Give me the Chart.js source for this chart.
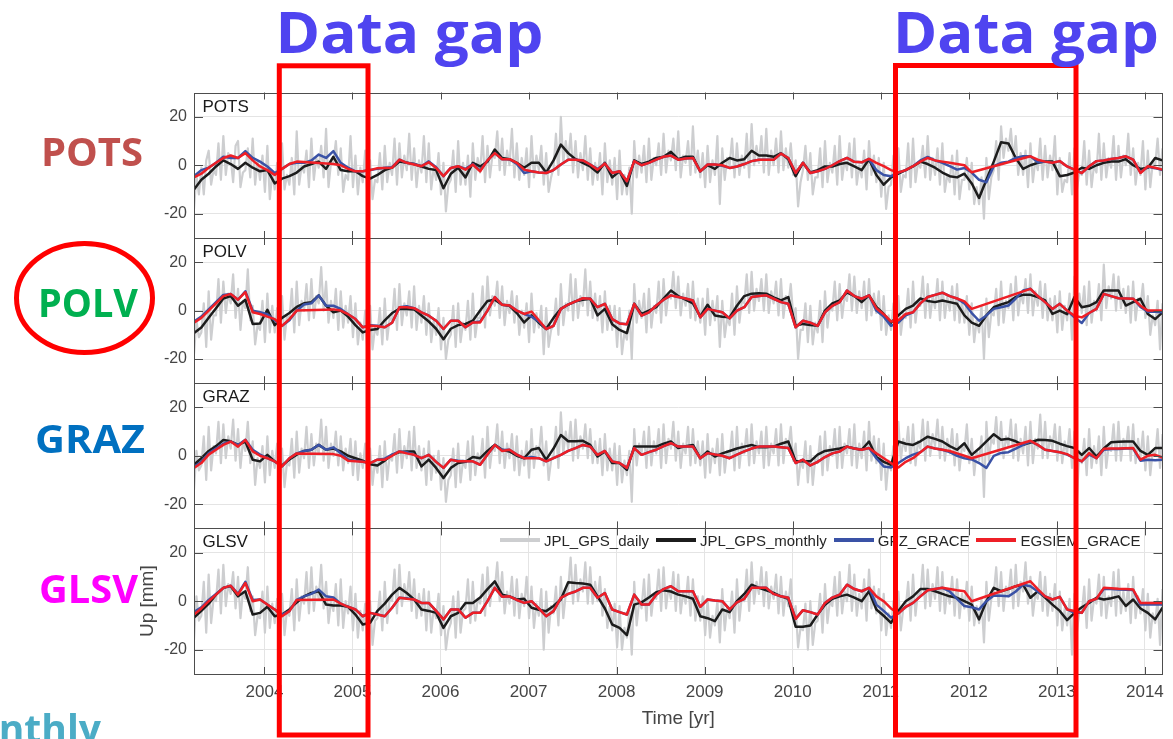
<!DOCTYPE html>
<html>
<head>
<meta charset="utf-8">
<title>GPS and GRACE vertical displacements</title>
<script src="https://cdn.jsdelivr.net/npm/chart.js@4.4.1/dist/chart.umd.min.js"></script>
<style>
  html, body { margin: 0; padding: 0; background: #fff; }
  #figure { position: relative; width: 1173px; height: 739px; overflow: hidden; background: #fff; }
  #figure canvas { position: absolute; left: 100px; }
  #legend { position: absolute; z-index: 2; left: 500px; top: 531px; height: 18px; display: flex; align-items: center;
            font: 15px "Liberation Sans", Arial, sans-serif; color: #262626; white-space: nowrap; }
  #legend .item { display: flex; align-items: center; margin-right: 7px; }
  #legend .swatch { display: inline-block; width: 40px; height: 3.5px; margin-right: 4px; }
  #notes { position: absolute; z-index: 3; left: 0; top: 0; pointer-events: none; }
  #notes text { font-family: "Open Sans", "Noto Sans", sans-serif; font-weight: 700; }
</style>
</head>
<body>
<div id="figure">
  <div id="legend"></div>
  <svg id="notes" width="1173" height="739">
    <rect x="279.3" y="65.8" width="88.7" height="669.2" fill="none" stroke="#ff0000" stroke-width="5"/>
    <rect x="895.5" y="65.5" width="180.5" height="669.5" fill="none" stroke="#ff0000" stroke-width="5"/>
    <text x="275.5" y="53" font-size="57" fill="#4f44f0" textLength="268" lengthAdjust="spacingAndGlyphs">Data gap</text>
    <text x="893" y="53" font-size="57" fill="#4f44f0" textLength="266" lengthAdjust="spacingAndGlyphs">Data gap</text>
    <ellipse cx="84.5" cy="298" rx="68" ry="54.5" fill="none" stroke="#ff0000" stroke-width="5"/>
    <text x="41" y="166" font-size="39" fill="#c0504d" textLength="102" lengthAdjust="spacingAndGlyphs">POTS</text>
    <text x="38" y="317" font-size="39" fill="#00b050" textLength="100" lengthAdjust="spacingAndGlyphs">POLV</text>
    <text x="35" y="453" font-size="39" fill="#0070c0" textLength="110" lengthAdjust="spacingAndGlyphs">GRAZ</text>
    <text x="39" y="603" font-size="39" fill="#ff00ff" textLength="99" lengthAdjust="spacingAndGlyphs">GLSV</text>
    <text x="101" y="743" font-size="39" fill="#4bacc6" text-anchor="end">Monthly</text>
  </svg>
</div>
<script>
// monthly series start at 2003.2; the daily GPS trace is kept at three samples a month
const startYear = 2003.2;
const endYear = 2014.2;
const yearTicks = [2004, 2005, 2006, 2007, 2008, 2009, 2010, 2011, 2012, 2013, 2014];
const upTicks = [-20, 0, 20];

// ---- POTS ----
const dailyPOTS = [
  -18,-4,-12, -1,-12,2, 6,-8,-2, -4,9,-6, 12,-4,5, 3,-7,8, 10,-9,-3, -2,7,-5, 11,-8,2, -6,4,-11,
  8,-14,-3, -10,1,-17, 9,-10,-4, -8,3,-12, 14,-8,0, -3,6,-9, 11,-6,3, -1,8,-5, 15,-9,1, 1,10,-4,
  7,-11,-4, -6,12,-9, 4,-12,-1, -7,6,-15, 2,-14,-6, -7,5,-10, 8,-7,1, -4,11,-8, 9,-5,4, -2,13,-6,
  7,-9,2, -3,12,-7, 9,-10,-1, -6,5,-12, 1,-19,-8, -6,6,-11, 10,-8,1, -8,4,-13, 9,-6,3, -3,12,-7,
  8,-5,4, 3,14,-2, 11,-4,6, 0,15,-5, 9,-6,3, -4,7,-9, 12,-5,4, -2,8,-8, 5,-11,-5, -1,13,-4,
  20,1,10, 2,13,-3, 10,-5,5, -2,12,-6, 7,-8,1, -6,5,-12, 9,-7,2, -8,3,-14, 6,-12,-4, -12,-1,-20,
  10,-5,4, -3,8,-7, 11,-6,3, 0,9,-4, 13,-3,6, 2,11,-2, 14,-5,4, 1,10,-4, 16,-3,6, -5,5,-9,
  8,-7,2, -4,12,-16, 7,-6,3, 0,11,-5, 9,-4,4, -1,13,-5, 17,0,8, 1,12,-3, 15,-4,6, 0,11,-3,
  14,-2,7, -1,9,-4, 2,-17,-7, -2,8,-6, 5,-12,-5, -5,7,-9, 10,-7,1, -3,8,-8, 12,-6,2, -2,9,-5,
  11,-8,0, -5,6,-10, 10,-4,4, -7,3,-13, 1,-18,-9, -8,4,-13, 7,-11,-4, -5,9,-9, 11,-7,1, -1,8,-5,
  12,-6,3, -4,7,-8, 9,-11,-4, -7,4,-12, 6,-14,-6, -6,3,-10, 1,-16,-9, -16,-5,-22, 3,-14,-5, -2,10,-6,
  16,3,11, 6,15,2, 12,-4,5, -4,6,-9, 9,-7,2, -2,11,-6, 8,-5,4, -2,12,-12, 3,-11,-6, -7,5,-12,
  7,-10,-3, -4,10,-8, 6,-9,0, -3,13,-6, 9,-5,3, -1,12,-6, 8,-5,4, 0,13,-4, 7,-8,1, -4,10,-10,
  6,-9,1, 0,11,-4, 7
];
const monthlyPOTS = [
  -10,-6,-3.5,-0.5,2,0.5,-1.5,1,-1,-2.5,
  -2,-7.5,-5.5,-4.5,-3,-0.5,0.5,1.5,-1.5,3.5,
  -2,-2.5,-2.5,-4.5,-5.5,-4,-2,-1,1.5,1,
  0.5,-0.5,-1.5,-2,-9.5,-3.5,-1,-5,1,-0.5,
  1.5,6.5,3,2.5,1,-1,1,1,-3,2,
  8.5,5,2.5,1,-0.5,-3,1,-5,-2.5,-8.5,
  2,0.5,1.5,3,3.5,5.5,2.5,3.5,3.5,-2.5,
  0,-1.5,1,3,2,2.5,6,4,4,3.5,
  5,2.5,-4.5,1,-3,-2,-0.5,-0.5,0.5,1,
  -0.5,-2,2.5,-4,-8,-5,-3.5,-2,-0.5,1.5,
  0.5,-1,-3,-4.5,-5,-3.5,-7.5,-13.5,-6,1.5,
  9.5,9,3,-1.5,0,1,1.5,1.5,-4.5,-4,
  -3,-1,-1.5,0,1,1.5,1.5,2.5,0,-1.5,
  -1,3,2
];
const gfzPOTS = [
  -4.5,-2,-1,1,3.5,3,3,5.8,3,1.5,
  -0.5,-3.2,-1.5,0.5,1,1,2,4.4,3,5.8,
  1,-1,-2.5,-2.5,-2,-1.5,-1,-0.8,2.3,1,
  0.5,-0.4,1.6,-0.8,-4.5,-1.1,-0.4,-1.5,0.5,-2.2,
  2,5,2.5,2.5,0.5,-3.2,-2.5,-3,-3.2,-2,
  0.3,2.3,2.3,2,0.3,-1.5,0.7,-3.2,-2.5,-6.6,
  1.7,0,1,2.3,3.5,4,2.3,2.8,3,-2.5,
  0.3,0.3,-0.2,-1.1,-0.5,0.5,1.7,2.3,2.3,2.3,
  4.8,3,-3.2,1,-3.2,-2.5,-1.5,0,1.7,3,
  1.4,1.2,2.6,-2,-4,-4.5,-3,-2,-0.4,2,
  3.4,2,1,-0.4,-1.8,-1.1,-3,-6,-7,-0.4,
  1,1.5,3,3.7,3.7,1.2,1.5,1,1.7,-0.5,
  -1.8,-3.2,-0.4,1.7,2,2.6,3,3.7,2.3,-3,
  -0.6,-1.2,-2
];
const egsiemPOTS = [
  -5,-3.5,-1,1,3,4,3,5,2,-0.5,
  -2,-4,-1.5,0.5,1.5,null,null,null,null,0.5,
  0,-1.5,-2.5,-2.5,-2,-1.2,-1.1,-1,2.3,1,
  0.3,-0.4,1.2,-1.1,-4.5,-1.1,-0.4,-1.8,0.3,-2.5,
  2,5,2.5,2.5,1,-1.8,-2.5,-3,-3.2,-2,
  0.3,2.3,2.3,2,0.3,-1.8,0.7,-3.2,-2.5,-6.6,
  1.7,0,1,2.3,3.5,4,2.3,2.8,3,-2.5,
  0.3,0.3,0,-1.1,-0.5,0.5,1.7,2.3,2.3,2.3,
  4.8,3,-3.2,1,-3.2,-2.5,-1.5,0,1.7,3,
  1.4,1.2,2.6,1,-0.4,-2,-3,-2,-0.4,1.5,
  3,2,1.5,1,0.5,0,-2.9,null,null,null,
  null,null,null,null,3.7,2.3,1.5,1,1.7,-0.5,
  -1.8,-3.2,-0.4,1.7,2,2.6,3,3.7,2.3,-3.2,
  -0.4,-1,-1.8
];

// ---- POLV ----
const dailyPOLV = [
  -18,-4,-11, -9,3,-15, 8,-12,-2, -2,13,-5, 12,-1,7, 3,15,-3, 9,-8,4, 1,17,-4, 2,-14,-6, -8,4,-13,
  7,-9,2, -9,1,-16, 6,-12,-2, -4,9,-9, 12,-6,4, 0,11,-4, 13,-3,6, 3,18,0, 12,-5,4, -3,9,-8,
  8,-7,2, -5,6,-11, 3,-14,-5, -12,0,-19, 2,-16,-7, -10,1,-14, 5,-12,-3, -4,9,-8, 11,-6,3, -2,8,-7,
  10,-8,2, -5,6,-10, 3,-13,-4, -10,1,-16, -3,-20,-12, -10,2,-15, 3,-13,-5, -8,4,-12, 7,-11,-3, -3,10,-7,
  14,-2,6, 2,12,-3, 10,-6,4, -1,8,-5, 6,-10,0, -7,3,-13, 7,-9,-1, -7,2,-18, 1,-15,-8, -6,5,-10,
  11,-6,3, 0,15,-4, 13,-3,6, 2,17,-2, 12,-3,7, -4,6,-9, 8,-8,2, -8,2,-15, 1,-18,-9, -12,0,-20,
  11,-5,4, -3,7,-9, 9,-7,2, -1,12,-5, 13,-2,7, 5,16,1, 14,-2,7, 2,11,-3, 12,-4,5, -5,5,-10,
  9,-6,4, -4,6,-15, 4,-11,-3, -6,7,-10, 10,-5,4, 3,15,-1, 16,0,9, 4,13,0, 15,-1,8, 3,12,-2,
  13,-3,6, 2,11,-2, 1,-20,-8, -8,3,-13, 2,-14,-5, -9,4,-13, 8,-7,2, 0,12,-4, 11,-3,6, 4,15,0,
  14,-1,8, 1,12,-4, 13,-2,7, -1,8,-8, 6,-10,-2, -8,3,-14, 6,-10,-1, -3,9,-7, 12,-5,4, 2,14,-3,
  11,-3,6, 1,13,-4, 12,-3,6, 0,10,-4, 11,-5,4, -5,6,-10, 3,-13,-4, -9,2,-20, 5,-11,-1, -2,9,-6,
  12,-5,4, 1,11,-4, 14,-2,7, 3,13,-1, 15,-2,8, 2,12,-3, 11,-4,5, -4,6,-9, 8,-8,2, -4,7,-12,
  14,-2,7, -1,10,-6, 12,-5,4, 0,11,-4, 19,1,10, 5,15,0, 14,1,9, -1,10,-5, 12,-4,5, 2,11,-3,
  6,-10,-2, -6,4,-16, 3
];
const monthlyPOLV = [
  -9.3,-7,-3,1,5,6,2,4.5,-5.5,-5.3,
  0.3,-6,-3,-1,1.5,3,3.5,6.3,2,-0.7,
  0,-2.5,-6,-9,-8,-7.6,-4,-1,0.7,0.7,
  0.5,-2,-4.5,-7.5,-11.8,-7.5,-6,-5.5,-4.2,0,
  4,4.5,2.4,2,-1,-4.9,-2,-5,-7.6,-3,
  0.7,2.5,3.8,4.5,4.9,-2,0.7,-5.6,-8,-9.3,
  2.8,-1.4,0,1.4,5,8.3,6,4.5,3,-2.4,
  2.4,-2,-2.5,-2.8,2,6,7,7.2,7,5.5,
  4.2,5.6,-6.3,-5.5,-6,-6.3,0,3,4.2,7.5,
  6,3.5,6.3,1.5,-1.4,-5,-2,0.7,2.1,5,
  4,3.5,4.2,3.5,2.8,-2,-5,-6.3,-2,1.4,
  2.5,3.5,5.6,6.5,6.5,5.6,4.2,-1.4,0,-1.5,
  5.6,1.4,2,3.5,8.3,8.3,8.3,2.1,3.5,4.9,
  -1.4,-3.5,-0.7
];
const gfzPOLV = [
  -4.5,-2.5,0.5,3.5,6.5,6.9,4.5,8,0,-0.7,
  -1.5,-4,-6.3,-4,0,2.5,3,6.3,2,2,
  0.7,-1.5,-3.5,-6.9,-6,-6.3,-6.9,-5,1.4,1.8,
  1,-0.7,-2.1,-4.2,-7.6,-4.2,-4.2,-6.9,-4.9,-4.5,
  0,5.6,2.4,2.1,0,-1.4,-2.5,-4.5,-7.6,-6.3,
  0.7,2.5,3.8,5.1,4.9,1.4,2.8,-3.5,-5.3,-5.6,
  2.8,-2.1,-0.7,2.1,4.5,6.3,5.6,5,4.2,-2.8,
  0.7,0,-0.7,-3.2,0,1.4,5.6,6,6.3,4.9,
  3.5,2.8,-6.9,-4.2,-5,-6.3,-0.7,2,3.5,8.3,
  6,4.9,6.3,0,-2.5,-6.3,-5,-2,-0.7,3,
  5.6,6.5,7.4,6,5,3,-1,-4.2,-2,0.7,
  1.4,2.1,5,8.3,9,6,3.5,0.7,2.8,0,
  -2.8,-5.1,-1,0.7,6.9,6,5.1,5,4.9,1.5,
  -0.5,-0.5,-0.7
];
const egsiemPOLV = [
  -5,-3,0,3,6,6.9,4.5,7.6,-0.7,-1.4,
  -2.5,-3.5,-6.3,-3.5,0,null,null,null,null,0.5,
  0,-1.5,-3.5,-6.9,-6.3,-6.5,-6.9,-5,1.4,1.4,
  1,-0.7,-2.1,-4.2,-7.6,-4.2,-4.2,-6.9,-4.9,-4.9,
  0,5.6,2.4,2.1,0,-1.4,-0.4,-4,-7.6,-6.3,
  0.7,2.5,3.8,5.1,4.9,1.4,2.8,-3.5,-5.3,-5.6,
  2.8,-2.1,-0.7,2.1,4.5,6.3,5.6,5,4.2,-2.8,
  0.7,0,-0.7,-3.2,0,1.4,5.6,6,6.3,4.9,
  3.5,2.8,-6.9,-4.2,-5,-6.3,-0.7,2,3.5,8.3,
  6,4.9,6.3,1,-1.5,-4.5,-4,-1.4,-0.7,3,
  5.6,6.5,7.4,6,5,3.8,0.7,null,null,null,
  null,null,null,null,9,6,3.5,0.7,2.8,0,
  -2.1,-2.8,-1,0.7,6.9,6,5.1,5,4.9,2,
  0,0,0
];

// ---- GRAZ ----
const dailyGRAZ = [
  -14,2,-6, -4,8,-10, 12,-6,4, 1,14,-3, 13,-1,8, 3,15,-2, 11,-5,6, 2,14,-3, 6,-12,-1, -5,4,-11,
  8,-8,2, -5,5,-12, 3,-13,-3, -4,7,-9, 10,-7,3, -1,12,-5, 9,-4,5, 1,15,-2, 12,-5,5, 0,10,-4,
  8,-6,3, -3,7,-8, 6,-10,1, -5,5,-11, 3,-12,-2, -7,4,-13, 6,-10,0, -2,9,-7, 11,-5,4, -1,10,-6,
  12,-5,4, -6,3,-12, 6,-10,0, -7,2,-14, -1,-19,-10, -8,3,-13, 5,-11,-2, -5,6,-10, 8,-8,1, -3,7,-9,
  12,-5,4, 2,13,-3, 10,-5,5, -1,9,-6, 8,-8,2, -4,6,-9, 11,-5,4, 0,12,-4, 6,-10,-2, 0,12,-5,
  18,1,10, 3,14,-2, 15,-1,8, 3,13,-1, 11,-3,6, -3,7,-8, 9,-6,3, -6,5,-12, 4,-11,-2, -8,2,-19,
  11,-4,5, 1,10,-5, 12,-4,6, 1,11,-5, 13,-3,7, 3,14,-2, 10,-5,5, 1,12,-4, 11,-3,6, -4,6,-9,
  9,-7,3, -3,7,-8, 9,-7,2, -1,10,-6, 12,-5,5, 1,11,-4, 13,-3,6, 1,10,-5, 12,-4,5, 1,11,-4,
  13,-3,7, 3,12,-2, 5,-12,-2, -5,6,-11, 4,-12,-1, -3,8,-8, 10,-6,4, 0,11,-5, 12,-5,5, 1,11,-4,
  13,-5,5, -1,10,-6, 14,-2,8, -3,7,-10, 5,-14,-2, -6,4,-19, 14,-2,7, 2,12,-3, 13,-4,6, 3,15,-2,
  14,0,9, 4,15,-1, 12,-2,7, 1,11,-4, 9,-6,4, 2,13,-3, 7,-8,2, -2,8,-17, 14,-2,7, 5,16,1,
  14,-1,8, 4,15,-1, 13,-2,7, 1,12,-4, 14,-3,7, 3,17,-1, 14,-1,8, 3,13,-2, 12,-3,6, 1,11,-5,
  10,-18,2, -3,7,-8, 11,-5,4, -3,8,-8, 12,-5,4, 2,13,-2, 14,-2,7, 3,12,-2, 13,-3,7, -1,10,-6,
  8,-8,2, 0,11,-5, 9
];
const monthlyGRAZ = [
  -3.7,-1,2,4,6.5,6,4.5,5.9,-1.6,-2.3,
  0.4,-2.3,-4,-1.5,0.5,2,2.5,4.5,2.5,3,
  1.8,0,-1,-2,-3.5,-4,-2,0.4,1.5,1.8,
  1.8,-4.4,-1.6,-5,-9.2,-5,-3,-2.5,-0.5,-1,
  2,4.5,2.5,1.8,0,-1,2.5,3.2,-1.6,3,
  8.6,6,6,6.2,4.5,-0.3,1.8,-3,-3,-5.8,
  3.8,3.8,3.8,3.8,5,5.9,3.2,4,4.5,-1,
  1.8,-0.3,1,2,3,3.8,4.5,3.5,3.5,3.8,
  5,5.9,-2.3,-2.3,-2.3,0.5,2,2.5,3,3.8,
  3,2.5,5.9,-0.5,-2.5,-3.7,5.9,5,4.5,6,
  7.9,7,5.9,4,2.5,5.2,0.4,3,6,8.9,
  6.6,7,6,4.5,5.5,6.6,6.5,6.2,5,4,
  3.2,0.4,3.2,-0.3,3,5.6,5.8,5.9,5.9,2,
  0.4,3.2,3.2
];
const gfzGRAZ = [
  -4.5,-2.5,1,3,5,5.9,4.5,6.6,2.5,0.5,
  -1,-2.3,-4.4,-1,1,2,2.5,4.5,2.5,3.5,
  1,-1.5,-2,-2.5,-3,-1.6,-1.2,0.5,1.8,1.5,
  0.4,-1,0.4,-2.5,-5,-1.6,-2,-2.3,-2.3,-3.7,
  0.5,4.5,2.4,2.5,0.5,-1,-0.5,-1,-2.3,-1,
  0.4,2,3.2,4.5,3.8,0.4,2,-2.3,-3,-5,
  3.2,0.4,1.5,2.5,4,5.2,3.8,3.8,3.8,-1,
  1.1,0.5,0,-1,0.5,1.8,3,3.8,3.8,3.8,
  3.5,3.2,-3,-1.6,-4,-2.5,-0.5,1,1.8,3.8,
  3,2.5,3.2,-1,-4.4,-4.8,-3,-1,0.5,1.5,
  3.8,3,2.5,1.5,0,-1,-1.5,-3,-5,0,
  1.2,1.5,3,4.5,5.9,4.5,2.5,2,1.5,0.5,
  -1,-2.3,0.5,-1,2.5,2.8,2.8,3,3,-2,
  -1.6,-1.8,-1.6
];
const egsiemGRAZ = [
  -5,-3,0.5,2.5,4.5,5.9,3.8,6.6,1.8,0,
  -1,-2.3,-4.4,-1,1,null,null,null,null,0.7,
  0,-2,-2.3,-2.5,-3,-1.6,-1.6,0,1.8,1,
  0.4,-1,0.4,-2.5,-5,-1.6,-2.3,-2.3,-2.3,-3.7,
  0.5,4.5,2,2.5,0.5,-1,-1,-1,-2.3,-1,
  0.4,2,3.2,4.5,3.8,0.4,2,-2.3,-3,-5,
  3.2,0.4,1.5,2.5,4,5.2,3.8,3.8,3.8,-1,
  1.1,0.5,0,-1,0.5,1.8,3,3.8,3.8,3.8,
  3.5,3.2,-3,-1.6,-4,-2.5,-0.5,1,1.8,3.8,
  3,2.5,3.2,1,-1,-3,-4.8,-2.5,-1,1.5,
  3.8,3,2.5,2,1,0,-1,null,null,null,
  null,null,null,null,6.2,4.5,2.5,2,1.5,0.7,
  -1,-2.3,1.1,-1,2.9,3,3,3.1,3.2,-1.6,
  0,0.4,-0.7
];

// ---- GLSV ----
const dailyGLSV = [
  -16,2,-8, -6,8,-13, 11,-9,1, 0,13,-5, 15,-2,7, 3,12,-3, 10,-7,4, 1,14,-4, 2,-14,-6, -7,4,-13,
  6,-11,-1, -9,1,-15, 3,-14,-4, -6,5,-12, 9,-8,2, -1,12,-5, 14,-4,6, 1,15,-3, 8,-9,0, -4,7,-10,
  9,-11,0, -5,6,-12, 3,-15,-4, -12,-1,-23, 0,-18,-8, -7,4,-12, 8,-9,1, 0,13,-5, 15,-2,7, 1,12,-4,
  9,-7,3, -6,5,-12, 4,-13,-3, -7,3,-14, -2,-20,-12, -9,2,-15, 4,-13,-4, -3,9,-9, 8,-8,1, -1,11,-6,
  14,-2,7, 5,16,0, 12,-5,4, -1,10,-6, 9,-7,3, -2,10,-7, 6,-11,-1, -6,5,-20, 4,-13,-2, -5,6,-10,
  10,-7,3, 5,18,-1, 15,0,9, 4,16,-1, 14,-1,8, 0,10,-6, 5,-11,-2, -12,-1,-19, -2,-20,-11, -15,-4,-22,
  8,-10,0, -3,9,-8, 11,-6,3, 1,13,-4, 14,-3,6, 1,12,-4, 11,-5,4, -1,10,-6, 9,-8,2, -8,2,-14,
  1,-15,-6, -10,0,-17, 5,-12,-2, -7,4,-13, 9,-8,2, 0,13,-4, 16,-1,8, 3,14,-2, 12,-3,6, 1,11,-5,
  10,-6,4, -2,9,-7, -2,-19,-11, -12,-1,-20, 0,-18,-9, -8,3,-13, 7,-9,0, -2,10,-6, 12,-5,4, 0,15,-4,
  11,-6,3, -3,9,-8, 13,-3,6, -5,5,-12, 3,-14,-5, -11,0,-18, 4,-12,-3, -3,8,-8, 11,-6,4, 2,15,-3,
  13,-2,7, 1,14,-4, 12,-5,5, -1,10,-6, 9,-7,3, -3,8,-8, 6,-10,-2, -9,1,-17, 8,-8,1, 3,14,-2,
  12,-4,6, 2,13,-3, 15,-2,8, 4,16,-1, 10,-6,3, 1,12,-4, 10,-6,3, -4,7,-10, 4,-12,-3, -10,1,-22,
  3,-13,-4, -5,6,-11, 9,-8,1, -1,11,-6, 10,-7,2, -2,12,-6, 13,-5,4, -4,7,-9, 10,-7,2, -5,5,-12,
  3,-15,-5, -9,1,-18, 5
];
const monthlyGLSV = [
  -6.8,-4,-1,2.7,5.5,6.2,2,4.1,-5.5,-4.8,
  -2.3,-6.2,-5.5,-3.4,-0.5,2,3.4,4.1,-1.4,-1.8,
  -1.8,-2.3,-5.5,-9.6,-8.9,-4,-1,2.7,5.5,3.4,
  0.7,-3.4,-4,-4.8,-11,-6.2,-4.8,-0.7,-0.7,1.5,
  5,8.2,2.7,2,0.7,1,-2.7,-3.5,-4.1,-2,
  0.7,7.8,7.5,7.3,6.8,2,-3,-9.6,-11,-14,
  -1.4,-0.5,1.5,3.7,4.5,4,2.7,2,1,-6.2,
  -7,-8.2,-3.4,-4.5,0,3,6.8,5.5,4.5,3.4,
  2,1,-10.5,-10.5,-10,-5.5,-1.5,1,2,2.7,
  1.5,0,4.1,-3.4,-6,-8.9,-4,0,2,5,
  5,4.1,3,2,1.4,0,-1.4,-7.5,0,5.5,
  4.1,5,6.2,6.8,1.4,4.1,1.5,-1.4,-4,-7.8,
  -4.8,-2.5,-0.7,1.4,0.7,1.2,2,-2,0.7,-3,
  -4.8,-7.5,-2.7
];
const gfzGLSV = [
  -4.5,-2.5,0.5,3,5.5,6.4,3,8,0.5,0.7,
  -1.4,-3.4,-5.5,-4.1,0.5,2,3,4.8,2,1.5,
  -1,-2.3,-3.4,-6.2,-4.8,-5.5,-6.2,-2.7,1.4,1.2,
  0.7,-0.7,-0.7,-4,-7.5,-3.4,-3.4,-6.8,-4.8,-4.8,
  0,5.5,1.8,2,0.5,-0.7,0,-3,-6.2,-4.1,
  1.4,3,4,5.5,5.5,1.4,3.4,-3.4,-4.5,-5.5,
  2.7,-1.4,-1.4,2.7,5,6.2,4.1,4.1,4.1,-2.3,
  0.7,0.3,0,-3.4,-0.5,1,5.5,5.5,5.5,3,
  2,1.4,-7.3,-3.7,-4.5,-5.5,-0.7,1.5,2.7,6.8,
  5,4.1,5.5,-1.4,-4,-6.8,-5,-2.3,-0.7,2,
  4.5,5,5.5,4,1,-2,-2.5,-3.4,0,2.3,
  2.2,2,4,6.8,6.2,4,2,0.7,1.8,-3.4,
  -4.8,-4.8,0,1,5,5,4.8,4.7,4.6,-1.4,
  -1.4,-1.4,-1.4
];
const egsiemGLSV = [
  -5.5,-3,0,2.7,5.5,6.4,2.7,7.5,0,0.7,
  -1.4,-3.4,-6.2,-4.1,0.5,null,null,null,null,0.7,
  -1,-2.3,-3.4,-6.2,-4.8,-5.5,-6.2,-2.7,1.4,1,
  0.7,-0.7,-0.7,-4,-7.5,-3.4,-3.4,-6.8,-4.8,-4.8,
  0,5.5,1.8,2,0.5,-0.7,0,-3,-6.2,-4.1,
  1.4,3,4,5.5,5.5,1.4,3.4,-3.4,-4.5,-5.5,
  2.7,-1.4,-1.4,2.7,5,6.2,4.1,4.1,4.1,-2.3,
  0.7,0.3,0,-3.4,-0.5,1,5.5,5.5,5.5,3,
  2,1.4,-7.3,-3.7,-4.5,-5.5,-0.7,1.5,2.7,6.8,
  5,4.1,5.5,2,0,-3,-5.1,-2.3,-0.7,2,
  4.5,5,5.5,5,4.5,4.1,0,null,null,null,
  null,null,null,null,8.2,5,2,0.7,1.8,-3.4,
  -4,-4.8,0,1,5.5,5.3,5.1,5,4.8,-0.7,
  -0.7,-0.7,-0.7
];

const panels = [
  { name: 'POTS', daily: dailyPOTS, monthly: monthlyPOTS, gfz: gfzPOTS, egsiem: egsiemPOTS },
  { name: 'POLV', daily: dailyPOLV, monthly: monthlyPOLV, gfz: gfzPOLV, egsiem: egsiemPOLV },
  { name: 'GRAZ', daily: dailyGRAZ, monthly: monthlyGRAZ, gfz: gfzGRAZ, egsiem: egsiemGRAZ },
  { name: 'GLSV', daily: dailyGLSV, monthly: monthlyGLSV, gfz: gfzGLSV, egsiem: egsiemGLSV },
];

// page y of the panel borders, top to bottom
const panelEdges = [92.5, 238, 383.2, 528.4, 674];
const FONT = '"Liberation Sans", Arial, Helvetica, sans-serif';

const toPoints = (values, step) => values.map((v, i) => ({ x: startYear + i * step, y: v }));

// the axes sit inside a fixed box, so no extra room for overhanging tick labels
const noOverhang = (axis) => {
  axis.paddingTop = 0;
  axis.paddingBottom = 0;
  axis.paddingLeft = 0;
  axis.paddingRight = 0;
};

// box, inward tick marks and station name, drawn the way MATLAB draws its axes
const panelFrame = {
  id: 'panelFrame',
  afterDatasetsDraw(chart, args, opts) {
    const { ctx, chartArea: a, scales: { x, y } } = chart;
    ctx.save();
    ctx.strokeStyle = '#4d4d4d';
    ctx.lineWidth = 1;
    ctx.beginPath();
    upTicks.forEach((v) => {
      const py = Math.round(y.getPixelForValue(v)) + 0.5;
      ctx.moveTo(a.left, py); ctx.lineTo(a.left + 9, py);
      ctx.moveTo(a.right, py); ctx.lineTo(a.right - 9, py);
    });
    yearTicks.forEach((yr) => {
      const px = Math.round(x.getPixelForValue(yr)) + 0.5;
      ctx.moveTo(px, a.top); ctx.lineTo(px, a.top + 7);
      ctx.moveTo(px, a.bottom); ctx.lineTo(px, a.bottom - 7);
    });
    ctx.stroke();
    ctx.strokeRect(Math.round(a.left) + 0.5, Math.round(a.top) + 0.5,
      Math.round(a.right) - Math.round(a.left) - 1, Math.round(a.bottom) - Math.round(a.top));
    ctx.fillStyle = '#1a1a1a';
    ctx.font = '17px ' + FONT;
    ctx.textBaseline = 'alphabetic';
    ctx.fillText(opts.name, a.left + 8.5, a.top + 19);
    ctx.restore();
  },
};

const makePanel = (p, k) => {
  const last = k === panels.length - 1;
  const top = panelEdges[k];
  const bottom = panelEdges[k + 1];
  const cTop = Math.floor(top) - 3;
  const cBottom = last ? 739 : Math.ceil(bottom) + 3;

  const canvas = document.createElement('canvas');
  canvas.width = 1073;
  canvas.height = cBottom - cTop;
  canvas.style.top = cTop + 'px';
  const figure = document.getElementById('figure');
  figure.insertBefore(canvas, figure.firstChild);

  return new Chart(canvas, {
    type: 'line',
    data: {
      datasets: [
        { label: 'JPL_GPS_daily', data: toPoints(p.daily, 1 / 36), borderColor: 'rgb(205,206,208)', borderWidth: 2.2, order: 4 },
        { label: 'JPL_GPS_monthly', data: toPoints(p.monthly, 1 / 12), borderColor: '#1c1c1c', borderWidth: 2.5, order: 3 },
        { label: 'GFZ_GRACE', data: toPoints(p.gfz, 1 / 12), borderColor: '#3a52a6', borderWidth: 2.5, order: 2 },
        { label: 'EGSIEM_GRACE', data: toPoints(p.egsiem, 1 / 12), borderColor: '#ee1f26', borderWidth: 2.5, order: 1 },
      ],
    },
    options: {
      responsive: false,
      animation: false,
      devicePixelRatio: 1,
      spanGaps: true,
      elements: { point: { radius: 0 }, line: { tension: 0, borderJoinStyle: 'round' } },
      layout: {
        padding: { left: 32, right: 10.5, top: top - cTop, bottom: last ? 4.6 : cBottom - bottom },
      },
      plugins: {
        legend: { display: false },
        tooltip: { enabled: false },
        panelFrame: { name: p.name },
      },
      scales: {
        x: {
          type: 'linear',
          min: startYear,
          max: endYear,
          display: last,
          afterBuildTicks: (axis) => { axis.ticks = yearTicks.map((v) => ({ value: v })); },
          afterFit: (axis) => { axis.height = last ? 60.4 : 0; noOverhang(axis); },
          border: { display: false },
          grid: { color: '#e4e4e4', drawTicks: false },
          ticks: {
            autoSkip: false,
            maxRotation: 0,
            padding: 8,
            color: '#454545',
            font: { family: FONT, size: 17 },
            callback: (v) => String(v),
          },
          title: {
            display: true,
            text: 'Time [yr]',
            color: '#454545',
            font: { family: FONT, size: 19 },
            padding: { top: 0, bottom: 4 },
          },
        },
        y: {
          min: -30,
          max: 30,
          afterBuildTicks: (axis) => { axis.ticks = upTicks.map((v) => ({ value: v })); },
          afterFit: (axis) => { axis.width = 62; noOverhang(axis); },
          border: { display: false },
          grid: { color: '#e4e4e4', drawTicks: false },
          ticks: { padding: 7, color: '#454545', font: { family: FONT, size: 16 } },
          title: {
            display: last,
            text: 'Up [mm]',
            color: '#454545',
            font: { family: FONT, size: 19 },
            padding: { top: 4, bottom: 4 },
          },
        },
      },
    },
    plugins: [panelFrame],
  });
};

// HTML legend built from the datasets of the bottom panel
const buildLegend = (chart) => {
  const box = document.getElementById('legend');
  chart.data.datasets.forEach((ds) => {
    const item = document.createElement('span');
    item.className = 'item';
    const swatch = document.createElement('span');
    swatch.className = 'swatch';
    swatch.style.background = ds.borderColor;
    const text = document.createElement('span');
    text.textContent = ds.label;
    item.append(swatch, text);
    box.appendChild(item);
  });
};

const charts = panels.map(makePanel);
buildLegend(charts[charts.length - 1]);
</script>
</body>
</html>
